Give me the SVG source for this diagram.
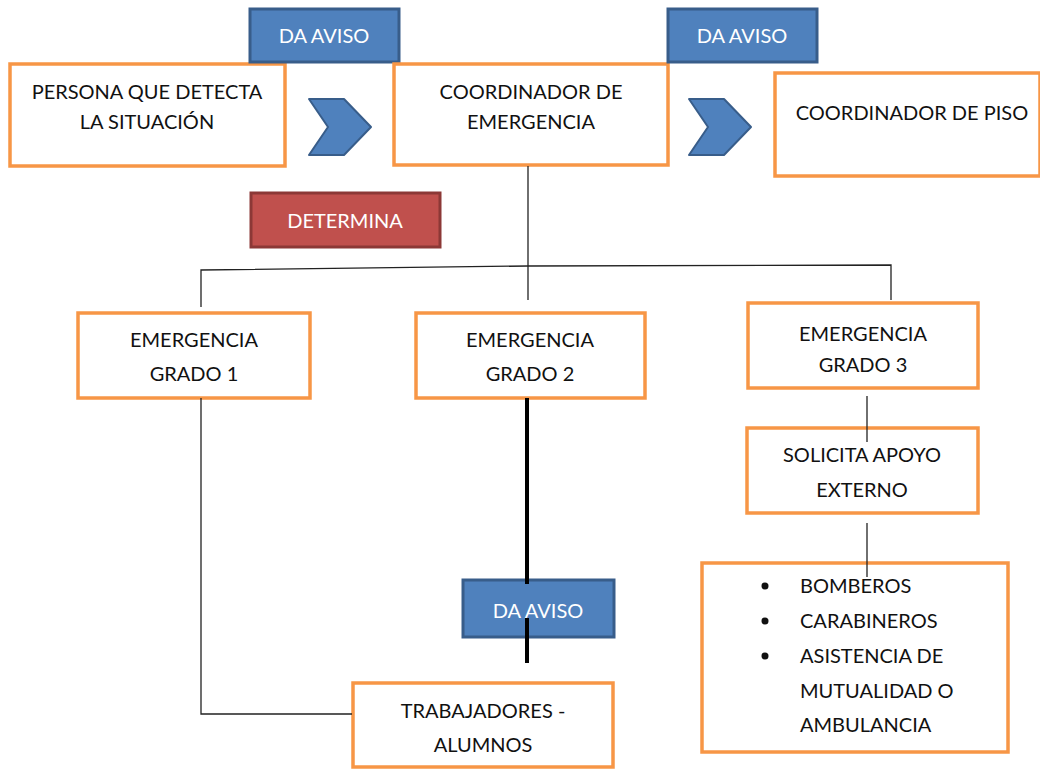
<svg xmlns="http://www.w3.org/2000/svg" width="1040" height="770" viewBox="0 0 1040 770">
<style>
.box{fill:#fff;stroke:#F79646;stroke-width:3.5}
.blue{fill:#4F81BD;stroke:#385D8A;stroke-width:3}
.red{fill:#C0504D;stroke:#8C3836;stroke-width:3}
.chev{fill:#4F81BD;stroke:#385D8A;stroke-width:2;stroke-linejoin:round}
text{font-family:Lato,"Open Sans","Liberation Sans",sans-serif;font-size:20px;text-anchor:middle;fill:#111}
.w{fill:#fff}
.thin{stroke:#222;stroke-width:1.3;fill:none}
.thick{stroke:#000;stroke-width:4;fill:none}
</style>
<rect width="1040" height="770" fill="#fff"/>
<g id="nodes">
<g id="persona"><rect class="box" x="10" y="64" width="275" height="102"/><text x="147" y="99">PERSONA QUE DETECTA</text><text x="147" y="129">LA SITUACIÓN</text></g>
<g id="aviso1"><rect class="blue" x="250" y="9" width="149" height="53"/><text class="w" x="324" y="43">DA AVISO</text></g>
<g id="chev1"><polygon class="chev" points="309,99 344,99 371,127 344,155 309,155 328,127"/></g>
<g id="coord"><rect class="box" x="394" y="64" width="274" height="101"/><text x="531" y="99">COORDINADOR DE</text><text x="531" y="129">EMERGENCIA</text></g>
<g id="aviso2"><rect class="blue" x="668" y="9" width="149" height="53"/><text class="w" x="742" y="43">DA AVISO</text></g>
<g id="chev2"><polygon class="chev" points="689,99 724,99 751,127 724,155 689,155 708,127"/></g>
<g id="piso"><rect class="box" x="775" y="73" width="265" height="103"/><text x="912" y="120">COORDINADOR DE PISO</text></g>
<g id="determina"><rect class="red" x="251" y="193" width="189" height="54"/><text class="w" x="345" y="228">DETERMINA</text></g>
<g id="grado1"><rect class="box" x="78" y="313" width="232" height="85"/><text x="194" y="347">EMERGENCIA</text><text x="194" y="381">GRADO 1</text></g>
<g id="grado2"><rect class="box" x="416" y="313" width="229" height="85"/><text x="530" y="347">EMERGENCIA</text><text x="530" y="381">GRADO 2</text></g>
<g id="grado3"><rect class="box" x="748" y="303" width="230" height="85"/><text x="863" y="341">EMERGENCIA</text><text x="863" y="372">GRADO 3</text></g>
<g id="solicita"><rect class="box" x="747" y="428" width="231" height="85"/><text x="862" y="462">SOLICITA APOYO</text><text x="862" y="497">EXTERNO</text></g>
<g id="externos"><rect class="box" x="702" y="563" width="306" height="189"/>
<circle cx="765" cy="586" r="3.5" fill="#111"/><circle cx="765" cy="621" r="3.5" fill="#111"/><circle cx="765" cy="656" r="3.5" fill="#111"/>
<text x="800" y="593" text-anchor="start" style="text-anchor:start">BOMBEROS</text>
<text x="800" y="628" style="text-anchor:start">CARABINEROS</text>
<text x="800" y="663" style="text-anchor:start">ASISTENCIA DE</text>
<text x="800" y="698" style="text-anchor:start">MUTUALIDAD O</text>
<text x="800" y="732" style="text-anchor:start">AMBULANCIA</text></g>
<g id="aviso3"><rect class="blue" x="463" y="580" width="151" height="57"/><text class="w" x="538" y="618">DA AVISO</text></g>
<g id="trabajadores"><rect class="box" x="353" y="683" width="260" height="84"/><text x="483" y="718">TRABAJADORES -</text><text x="483" y="752">ALUMNOS</text></g>
</g>
<g id="connectors">
<line class="thin" x1="528" y1="166" x2="528" y2="300"/>
<polyline class="thin" points="201,307 201,270 528,266 891,265 891,300"/>
<line class="thin" x1="867" y1="396" x2="867" y2="442"/>
<line class="thin" x1="867" y1="523" x2="867" y2="577"/>
<polyline class="thin" points="201,398 201,714 352,714"/>
<line class="thick" x1="527" y1="398" x2="527" y2="584"/>
<line class="thick" x1="527" y1="618" x2="527" y2="663"/>
</g>
</svg>
